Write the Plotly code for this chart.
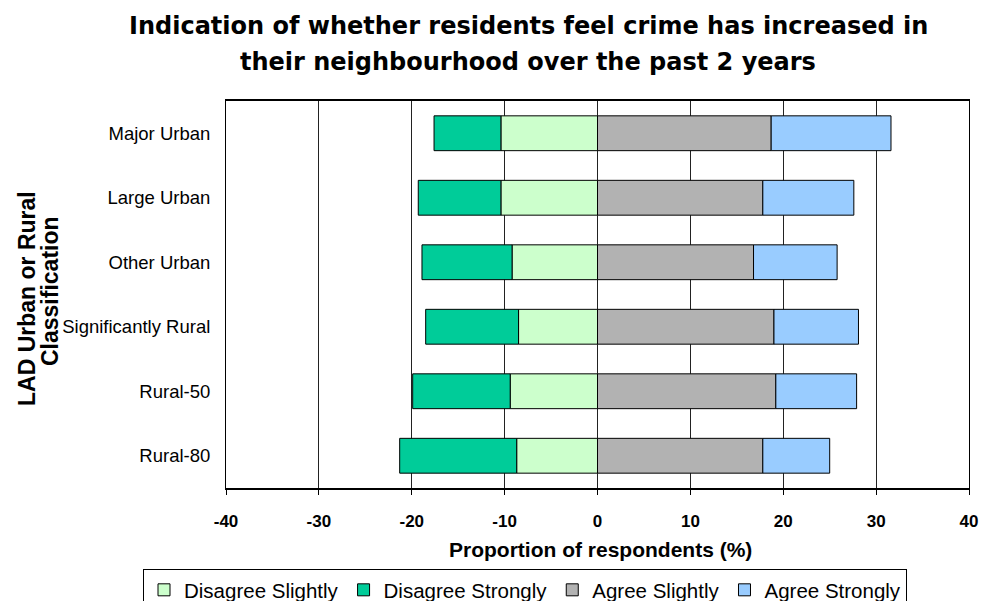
import plotly.graph_objects as go

categories = ["Major Urban", "Large Urban", "Other Urban", "Significantly Rural", "Rural-50", "Rural-80"]
disagree_slightly = [10.4, 10.4, 9.2, 8.5, 9.4, 8.7]
disagree_strongly = [7.2, 8.9, 9.7, 10.0, 10.5, 12.6]
agree_slightly = [18.7, 17.8, 16.8, 19.0, 19.2, 17.8]
agree_strongly = [12.9, 9.8, 9.0, 9.1, 8.7, 7.2]
tick_values = [-40, -30, -20, -10, 0, 10, 20, 30, 40]
tick_labels = ["-40", "-30", "-20", "-10", "0", "10", "20", "30", "40"]

FONT = "Liberation Sans, Arial, sans-serif"
WIDE = "DejaVu Sans, Liberation Sans, Arial, sans-serif"

series = [
    ("Disagree Slightly", [-v for v in disagree_slightly], "#CCFFCC"),
    ("Disagree Strongly", [-v for v in disagree_strongly], "#00CC99"),
    ("Agree Slightly", agree_slightly, "#B2B2B2"),
    ("Agree Strongly", agree_strongly, "#99CCFF"),
]

fig = go.Figure()
for name, vals, color in series:
    fig.add_trace(go.Bar(
        y=categories, x=vals, name=name, orientation="h",
        marker=dict(color=color, line=dict(color="black", width=1)),
    ))

# page body has an 8px default margin; work in screen coordinates and shift
OFF = 8
FW, FH = 988 - OFF, 601 - OFF
L, R, T, B = 226 - OFF, 969 - OFF, 101 - OFF, 488 - OFF
W = R - L
H = B - T


def px(x):
    return (x - OFF - L) / W


def py(y):
    return (B - (y - OFF)) / H


fig.update_layout(
    width=FW, height=FH,
    margin=dict(l=L, r=FW - R, t=T, b=FH - B, autoexpand=False),
    paper_bgcolor="white", plot_bgcolor="white",
    barmode="relative", bargap=0.46,
    font=dict(family=FONT, color="black"),
    showlegend=True,
    legend=dict(
        orientation="h", x=px(143), xanchor="left", y=py(569), yanchor="top",
        bordercolor="black", borderwidth=1, font=dict(family=FONT, size=20.5),
        traceorder="normal", itemwidth=30, tracegroupgap=0,
    ),
    xaxis=dict(
        range=[-40, 40], tickvals=tick_values, ticktext=tick_labels,
        showgrid=True, gridcolor="#222222", gridwidth=1,
        showline=True, linecolor="black", linewidth=2, mirror=True,
        ticks="outside", ticklen=5, tickcolor="black",
        ticklabelstandoff=12,
        tickfont=dict(family=FONT, size=17, color="black", weight="bold"),
        zeroline=False, automargin=False,
    ),
    yaxis=dict(
        categoryorder="array", categoryarray=categories, autorange="reversed",
        showline=True, linecolor="black", linewidth=1, mirror=True,
        tickfont=dict(family=FONT, size=18.5, color="black"),
        ticklabelstandoff=11,
        ticks="", showgrid=False, automargin=False,
    ),
    annotations=[
        dict(text="<b>Indication of whether residents feel crime has increased in</b>",
             xref="paper", yref="paper", x=px(528), y=py(26),
             xanchor="center", yanchor="middle", showarrow=False,
             font=dict(family=WIDE, size=24)),
        dict(text="<b>their neighbourhood over the past 2 years</b>",
             xref="paper", yref="paper", x=px(528), y=py(62),
             xanchor="center", yanchor="middle", showarrow=False,
             font=dict(family=WIDE, size=24)),
        dict(text="<b>Proportion of respondents (%)</b>",
             xref="paper", yref="paper", x=px(600), y=py(549),
             xanchor="center", yanchor="middle", showarrow=False,
             font=dict(family=FONT, size=21)),
        dict(text="<b>LAD Urban or Rural</b>",
             xref="paper", yref="paper", x=px(27), y=py(299),
             xanchor="center", yanchor="middle", textangle=-90, showarrow=False,
             font=dict(family=FONT, size=23)),
        dict(text="<b>Classification</b>",
             xref="paper", yref="paper", x=px(50), y=py(291),
             xanchor="center", yanchor="middle", textangle=-90, showarrow=False,
             font=dict(family=FONT, size=23)),
    ],
)

fig.write_html("out.html")
